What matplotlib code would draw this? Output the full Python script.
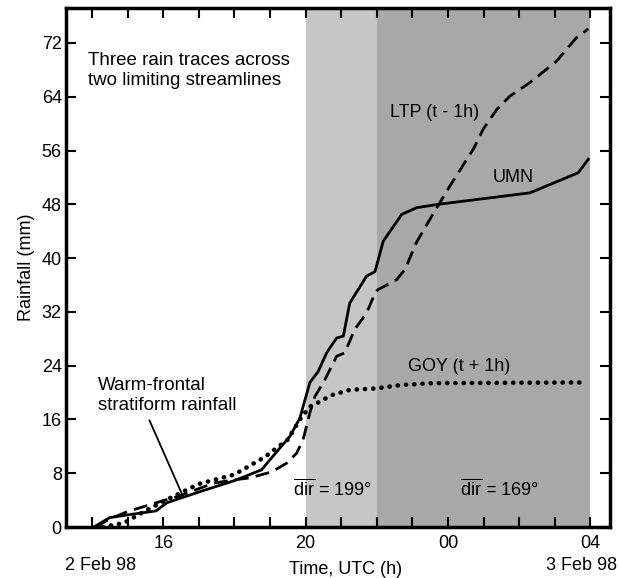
import matplotlib.pyplot as plt

plt.rcParams["font.family"] = ["Liberation Sans", "DejaVu Sans"]
plt.rcParams["mathtext.fontset"] = "custom"
plt.rcParams["mathtext.rm"] = "Liberation Sans"

# Hours after 00 UTC on 2 Feb 98 (24 = 00 UTC 3 Feb)
umn_hours = [14.05, 14.5, 15.0, 15.8, 16.1, 17.0, 18.0, 18.76, 19.19, 19.56,
             19.84, 20.12, 20.35, 20.59, 20.87, 21.06, 21.24, 21.71, 21.95,
             22.18, 22.7, 23.12, 23.73, 26.3, 27.66, 27.94]
umn_rain = [0, 1.4, 1.8, 2.4, 3.6, 5.2, 6.9, 8.5, 11.2, 13.5,
            16.2, 21.5, 23.1, 25.9, 28.1, 28.4, 33.3, 37.3, 38.0,
            42.5, 46.5, 47.5, 48.0, 49.7, 52.7, 54.7]

ltp_hours = [14.1, 14.5, 15.0, 15.8, 16.5, 17.4, 17.97, 18.43, 19.05, 19.47,
             19.75, 19.93, 20.12, 20.26, 20.54, 20.87, 21.1, 21.38, 21.71, 21.95,
             22.03, 22.56, 22.79, 23.11, 23.54, 24.05, 24.71, 24.99, 25.37, 25.74,
             26.3, 27.05, 27.61, 27.94]
ltp_rain = [0, 1.2, 2.3, 3.6, 4.7, 6.5, 7.0, 7.3, 8.2, 9.5,
            11.0, 13.0, 17.0, 19.4, 21.9, 25.4, 25.9, 29.4, 31.8, 34.8,
            35.3, 36.8, 38.3, 42.3, 46.2, 50.7, 56.2, 59.2, 62.1, 64.1,
            66.1, 69.3, 72.8, 74.1]

goy_hours = [14.3, 14.9, 15.5, 16.0, 17.0, 18.0, 18.85, 19.5, 19.84, 20.12,
             20.31, 20.59, 20.78, 21.24, 21.95, 22.65, 23.58, 27.8]
goy_rain = [0, 0.6, 2.4, 3.8, 6.4, 7.8, 10.4, 13.0, 16.0, 17.9,
            18.4, 19.2, 19.7, 20.4, 20.6, 21.1, 21.4, 21.5]

# wind-direction periods (shaded)
period_start = [20, 22]
period_end = [22, 28]
period_color = ["#c6c6c6", "#a8a8a8"]
period_label = [r"$\overline{\mathrm{dir}}$ = 199°", r"$\overline{\mathrm{dir}}$ = 169°"]
period_label_x = [19.64, 24.33]

hour_ticks = list(range(14, 29))
labelled_hours = {16: "16", 20: "20", 24: "00", 28: "04"}
rain_ticks = list(range(0, 73, 8))

fig = plt.figure(figsize=(6.19, 5.78), dpi=100)
ax = fig.add_axes([66 / 619, 51 / 578, 544 / 619, 519 / 578])

for x0, x1, c in zip(period_start, period_end, period_color):
    ax.axvspan(x0, x1, color=c, lw=0, zorder=0)
for x, lab in zip(period_label_x, period_label):
    ax.text(x, 5.6, lab, fontsize=13, va="center", ha="left", zorder=3)

ax.plot(umn_hours, umn_rain, color="black", lw=2.0, zorder=4)
ax.plot(ltp_hours, ltp_rain, color="black", lw=2.0, linestyle=(0, (5, 2.6)), zorder=4)
ax.plot(goy_hours, goy_rain, color="black", lw=3.3, linestyle=(0, (0.05, 1.75)),
        dash_capstyle="round", zorder=4)

ax.text(22.38, 61.7, "LTP (t - 1h)", fontsize=13, va="center", ha="left")
ax.text(25.24, 52.0, "UMN", fontsize=13, va="center", ha="left")
ax.text(22.87, 23.8, "GOY (t + 1h)", fontsize=13, va="center", ha="left")

ax.text(0.04, 0.915, "Three rain traces across\ntwo limiting streamlines",
        transform=ax.transAxes, fontsize=13.5, va="top", ha="left", linespacing=1.2)
ax.annotate("Warm-frontal\nstratiform rainfall", xy=(16.52, 5.0), xytext=(14.17, 22.3),
            fontsize=13.5, va="top", ha="left", linespacing=1.2,
            arrowprops=dict(arrowstyle="-", color="black", lw=1.3,
                            relpos=(0.35, 0.0), shrinkA=3, shrinkB=0))

ax.set_xlim(13.27, 28.55)
ax.set_ylim(0, 77.2)
ax.set_xticks(hour_ticks)
ax.set_xticklabels([labelled_hours.get(h, "") for h in hour_ticks])
ax.set_yticks(rain_ticks)
ax.tick_params(direction="in", top=True, right=True, length=7, width=1.5,
               labelsize=13)
ax.tick_params(axis="x", pad=6)
ax.tick_params(axis="y", pad=3)
for s in ax.spines.values():
    s.set_linewidth(2.5)

ax.set_ylabel("Rainfall (mm)", fontsize=13, labelpad=5)
fig.text(346 / 619, 1 - 570 / 578, "Time, UTC (h)", fontsize=13, ha="center", va="center")
fig.text(65 / 619, 1 - 566 / 578, "2 Feb 98", fontsize=13, ha="left", va="center")
fig.text(617 / 619, 1 - 566 / 578, "3 Feb 98", fontsize=13, ha="right", va="center")

fig.savefig("out.png", dpi=100)
